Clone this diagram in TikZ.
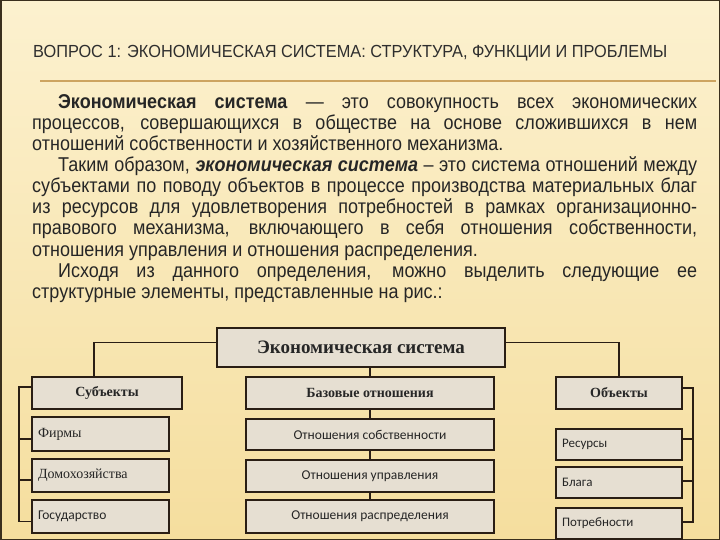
\documentclass[tikz,border=0pt]{standalone}
\usepackage{fontspec}
\usepackage{graphicx}
\setmainfont{Liberation Sans}
\newfontfamily\narfont[FakeStretch=0.90]{Liberation Sans}
\newfontfamily\titfont[FakeStretch=0.82]{Liberation Sans}
\newfontfamily\tmsfont{Liberation Serif}
\newfontfamily\calfont{Carlito}
\definecolor{bgtop}{HTML}{FCF1CF}
\definecolor{bgbot}{HTML}{F5DE9E}
\definecolor{framec}{HTML}{3A2F1D}
\definecolor{rulec}{HTML}{CDA460}
\definecolor{boxfill}{HTML}{E6DFD2}
\definecolor{boxline}{HTML}{2A1E14}
\definecolor{txtc}{HTML}{262626}
\definecolor{titc}{HTML}{2E2E2E}
\newcommand\jline[1]{\hbox to 665pt{#1}}
\begin{document}
\begin{tikzpicture}[x=1pt,y=-1pt,
  bx/.style={draw=boxline, line width=1.6pt, fill=boxfill, inner sep=0pt, text=black!85},
  lbx/.style={bx, inner xsep=6pt, align=left},
  con/.style={draw=boxline, line width=1.8pt},
  bodyline/.style={anchor=base west, inner sep=0pt, text=txtc, font=\narfont\fontsize{20}{21}\selectfont},
  hdr/.style={font=\tmsfont\bfseries\fontsize{14}{16}\selectfont},
  itm/.style={font=\calfont\fontsize{13.5}{15}\selectfont},
  itmr/.style={font=\calfont\fontsize{13}{15}\selectfont},
  itms/.style={font=\tmsfont\fontsize{14}{15}\selectfont}
]
\useasboundingbox (0,0) rectangle (720,540);
\fill[top color=bgtop, bottom color=bgbot] (0,0) rectangle (720,540);
\draw[framec, line width=1.5pt] (0.75,0.75) rectangle (719.25,539.25);
% title
\node[anchor=base west, inner sep=0pt, text=titc] (title) at (33,58)
  {\resizebox{634pt}{\height}{\titfont\fontsize{17.5}{20}\selectfont ВОПРОС 1: ЭКОНОМИЧЕСКАЯ СИСТЕМА: СТРУКТУРА, ФУНКЦИИ И ПРОБЛЕМЫ}};
\coordinate (rl) at (40,81);
\coordinate (rr) at (716,81);
\draw[rulec, line width=1.5pt] (rl) -- (rr);
% body
\node[bodyline] (l1) at (32,109) {\jline{\hskip26pt\textbf{Экономическая система} — это совокупность всех экономических}};
\node[bodyline] (l2) at (32,130) {\jline{процессов, совершающихся в обществе на основе сложившихся в нем}};
\node[bodyline] (l3) at (32,151) {отношений собственности и хозяйственного механизма.};
\node[bodyline] (l4) at (32,172) {\jline{\hskip26pt Таким образом, \textbf{\textit{экономическая система}} – это система отношений между}};
\node[bodyline] (l5) at (32,193) {\jline{субъектами по поводу объектов в процессе производства материальных благ}};
\node[bodyline] (l6) at (32,214) {\jline{из ресурсов для удовлетворения потребностей в рамках организационно-}};
\node[bodyline] (l7) at (32,235) {\jline{правового механизма, включающего в себя отношения собственности,}};
\node[bodyline] (l8) at (32,256) {отношения управления и отношения распределения.};
\node[bodyline] (l9) at (32,277) {\jline{\hskip26pt Исходя из данного определения, можно выделить следующие ее}};
\node[bodyline] (l10) at (32,298) {структурные элементы, представленные на рис.:};
% diagram
\node[bx, minimum width=288pt, minimum height=39pt, font=\tmsfont\bfseries\fontsize{19}{22}\selectfont] (main) at (361,347.5) {Экономическая система};
\node[bx, hdr, minimum width=150pt, minimum height=32pt] (subj) at (107,393) {Субъекты};
\node[bx, hdr, minimum width=248pt, minimum height=32pt] (baz) at (370,393) {Базовые отношения};
\node[bx, hdr, minimum width=126pt, minimum height=32pt] (obj) at (619,393) {Объекты};
\node[lbx, itms, text width=125pt, minimum height=34pt] (firm) at (100.5,434) {Фирмы};
\node[lbx, itms, text width=125pt, minimum height=33pt] (dom) at (100.5,475.5) {Домохозяйства};
\node[lbx, itm, text width=125pt, minimum height=33pt] (gos) at (100.5,516.5) {Государство};
\node[bx, itm, minimum width=248pt, minimum height=31pt] (sob) at (370,434.5) {Отношения собственности};
\node[bx, itm, minimum width=248pt, minimum height=32pt] (upr) at (370,476) {Отношения управления};
\node[bx, itm, minimum width=248pt, minimum height=33pt] (ras) at (370,516.5) {Отношения распределения};
\node[lbx, itmr, text width=114pt, minimum height=31pt] (res) at (619,444.5) {Ресурсы};
\node[lbx, itmr, text width=114pt, minimum height=31pt] (bla) at (619,482.5) {Блага};
\node[lbx, itmr, text width=114pt, minimum height=31pt] (pot) at (619,523.5) {Потребности};
% connectors
\coordinate (lb) at (19,400);
\coordinate (rb) at (693,400);
\draw[con] ([yshift=5pt]main.west) -| ([xshift=-13pt]subj.north);
\draw[con] ([yshift=5pt]main.east) -| (obj.north);
\draw[con] (main.south -| baz.north) -- (baz.north);
\draw[con] (baz.south) -- (sob.north);
\draw[con] (sob.south) -- (upr.north);
\draw[con] (upr.south) -- (ras.north);
\draw[con] ([yshift=6pt]subj.west) -- ([yshift=6pt]subj.west -| lb) |- ([yshift=-5pt]gos.west);
\draw[con] ([yshift=-5pt]firm.west) -- ([yshift=-5pt]firm.west -| lb);
\draw[con] ([yshift=-4.5pt]dom.west) -- ([yshift=-4.5pt]dom.west -| lb);
\draw[con] ([yshift=5pt]obj.east) -- ([yshift=5pt]obj.east -| rb) |- ([yshift=1.5pt]pot.east);
\draw[con] ([yshift=5.5pt]res.east) -- ([yshift=5.5pt]res.east -| rb);
\draw[con] ([yshift=1.5pt]bla.east) -- ([yshift=1.5pt]bla.east -| rb);
\end{tikzpicture}
\end{document}
